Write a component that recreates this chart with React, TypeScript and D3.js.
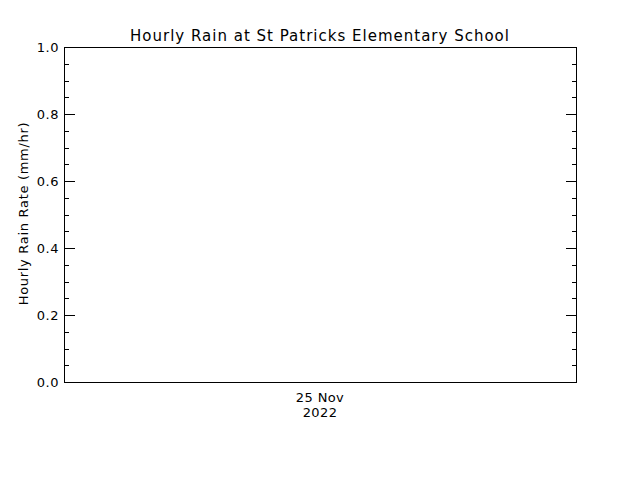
import * as d3 from "d3";
import { useEffect, useRef } from "react";

const title = "Hourly Rain at St Patricks Elementary School";
const yLabel = "Hourly Rain Rate (mm/hr)";
const yMajorTicks = [0.0, 0.2, 0.4, 0.6, 0.8, 1.0];
const dateLabel = ["25 Nov", "2022"];
// no rain recorded during the period
const rainValues: number[] = [];

export default function App() {
  const ref = useRef<SVGSVGElement>(null);

  useEffect(() => {
    const width = 640;
    const height = 480;
    const m = { left: 64, right: 576, top: 47, bottom: 382 };

    const svg = d3.select(ref.current).attr("width", width).attr("height", height);
    svg.selectAll("*").remove();

    svg.append("rect").attr("width", width).attr("height", height).attr("fill", "#fff");

    const y = d3.scaleLinear().domain([0, 1]).range([m.bottom, m.top]);
    const x = d3.scaleLinear().domain([0, 1]).range([m.left, m.right]);

    const font = "'DejaVu Sans', sans-serif";

    // frame
    svg
      .append("rect")
      .attr("x", m.left + 0.5)
      .attr("y", m.top + 0.5)
      .attr("width", m.right - m.left)
      .attr("height", m.bottom - m.top)
      .attr("fill", "none")
      .attr("stroke", "#000")
      .attr("stroke-width", 1);

    const minor = d3.range(0, 1.0001, 0.05).filter((v) => !yMajorTicks.some((t) => Math.abs(t - v) < 1e-6));

    const left = d3
      .axisLeft(y)
      .tickValues(yMajorTicks)
      .tickSize(0)
      .tickPadding(5)
      .tickFormat(d3.format(".1f"));

    const gl = svg.append("g").attr("transform", `translate(${m.left},0)`).call(left);
    gl.select(".domain").remove();
    gl.selectAll("text")
      .attr("font-family", font)
      .attr("font-size", 13)
      .attr("letter-spacing", 0.5)
      .attr("fill", "#000");

    const tick = (vals: number[], len: number) => {
      svg
        .append("g")
        .selectAll("path")
        .data(vals)
        .join("path")
        .attr("d", (d) => {
          const yy = Math.round(y(d)) + 0.5;
          return `M${m.left},${yy}h${len}M${m.right + 1},${yy}h${-len}`;
        })
        .attr("stroke", "#000");
    };
    tick(yMajorTicks.slice(1, -1), 11);
    tick(minor, 5);

    svg
      .append("g")
      .selectAll("circle")
      .data(rainValues)
      .join("circle")
      .attr("cx", (_d, i) => x(i / Math.max(1, rainValues.length - 1)))
      .attr("cy", (d) => y(d))
      .attr("r", 1);

    svg
      .append("text")
      .attr("x", (m.left + m.right) / 2)
      .attr("y", 41)
      .attr("text-anchor", "middle")
      .attr("font-family", font)
      .attr("font-size", 15)
      .attr("letter-spacing", 1)
      .text(title);

    svg
      .append("text")
      .attr("transform", `translate(28,${(m.top + m.bottom) / 2 - 1}) rotate(-90)`)
      .attr("text-anchor", "middle")
      .attr("font-family", font)
      .attr("font-size", 13)
      .attr("letter-spacing", 0.7)
      .text(yLabel);

    svg
      .append("g")
      .selectAll("text")
      .data(dateLabel)
      .join("text")
      .attr("x", x(0.5))
      .attr("y", (_d, i) => 402 + i * 15)
      .attr("text-anchor", "middle")
      .attr("font-family", font)
      .attr("font-size", 13)
      .attr("letter-spacing", 0.4)
      .text((d) => d);
  }, []);

  return <svg ref={ref} style={{ position: "absolute", left: 0, top: 0 }}></svg>;
}
